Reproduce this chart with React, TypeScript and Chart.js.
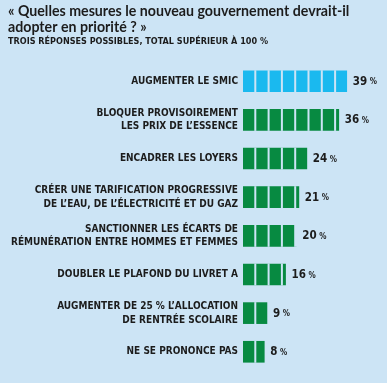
import React, { useEffect, useRef } from "react";
import { Chart, registerables } from "chart.js";

Chart.register(...registerables);

const titleLines = [
  "« Quelles mesures le nouveau gouvernement devrait-il",
  "adopter en priorité ? »",
];
const subtitleText = "TROIS RÉPONSES POSSIBLES, TOTAL SUPÉRIEUR À 100 %";

const categories: string[][] = [
  ["AUGMENTER LE SMIC"],
  ["BLOQUER PROVISOIREMENT", "LES PRIX DE L’ESSENCE"],
  ["ENCADRER LES LOYERS"],
  ["CRÉER UNE TARIFICATION PROGRESSIVE", "DE L’EAU, DE L’ÉLECTRICITÉ ET DU GAZ"],
  ["SANCTIONNER LES ÉCARTS DE", "RÉMUNÉRATION ENTRE HOMMES ET FEMMES"],
  ["DOUBLER LE PLAFOND DU LIVRET A"],
  ["AUGMENTER DE 25 % L’ALLOCATION", "DE RENTRÉE SCOLAIRE"],
  ["NE SE PRONONCE PAS"],
];
const values = [39, 36, 24, 21, 20, 16, 9, 8];
const highlightIndex = 0;
const segmentStep = 5;

const BG = "#cce4f5";
const BLUE = "#1ab9ef";
const GREEN = "#078a41";
const TEXT = "#1c1c1c";
const COND = "'DejaVu Sans Condensed', 'DejaVu Sans', sans-serif";

const bgPlugin = {
  id: "bgFill",
  beforeDraw(chart: any) {
    const { ctx, width, height } = chart;
    ctx.save();
    ctx.fillStyle = BG;
    ctx.fillRect(0, 0, width, height);
    ctx.restore();
  },
};

const barDecor = {
  id: "barDecor",
  afterDatasetsDraw(chart: any) {
    const { ctx } = chart;
    const xScale = chart.scales.x;
    const meta = chart.getDatasetMeta(0);
    ctx.save();
    meta.data.forEach((el: any, i: number) => {
      const { x, y, height } = el.getProps(["x", "y", "height"], true);
      const v = values[i];
      ctx.fillStyle = BG;
      for (let s = segmentStep; s <= v; s += segmentStep) {
        const px = xScale.getPixelForValue(s);
        const w = s === v ? 3.5 : 2;
        ctx.fillRect(px - 2, y - height / 2 - 0.5, w, height + 1);
      }
      ctx.fillStyle = TEXT;
      ctx.textBaseline = "middle";
      ctx.textAlign = "left";
      ctx.font = `bold 11.5px ${COND}`;
      const numText = String(v);
      const tx = x + 6;
      ctx.fillText(numText, tx, y + 0.5);
      const w = ctx.measureText(numText + " ").width;
      ctx.font = `bold 8px ${COND}`;
      ctx.fillText("%", tx + w - 1, y + 1);
    });
    ctx.restore();
  },
};

export default function App() {
  const ref = useRef<HTMLCanvasElement | null>(null);
  useEffect(() => {
    if (!ref.current) return;
    const chart = new Chart(ref.current, {
      type: "bar",
      data: {
        labels: categories,
        datasets: [
          {
            data: values,
            backgroundColor: values.map((_, i) => (i === highlightIndex ? BLUE : GREEN)),
            borderWidth: 0,
            barThickness: 21,
          },
        ],
      },
      options: {
        indexAxis: "y",
        responsive: false,
        animation: false,
        devicePixelRatio: 1,
        layout: { padding: { left: 8, right: 11, top: 0, bottom: 8 } },
        plugins: {
          legend: { display: false },
          tooltip: { enabled: false },
          title: {
            display: true,
            text: titleLines,
            align: "start",
            color: TEXT,
            font: { family: "Lato, 'Open Sans', sans-serif", size: 14.2, weight: "bold", lineHeight: 1.13 },
            padding: { top: 3, bottom: 1 },
          },
          subtitle: {
            display: true,
            text: subtitleText,
            align: "start",
            color: TEXT,
            font: { family: COND, size: 9, weight: "bold", lineHeight: 1.2 },
            padding: { top: 0, bottom: 15 },
          },
        },
        scales: {
          x: {
            display: false,
            min: 0,
            max: 50,
          },
          y: {
            afterFit: (scale: any) => {
              scale.width = 235;
            },
            grid: { display: false, drawTicks: false },
            border: { display: false },
            ticks: {
              color: TEXT,
              padding: 5,
              autoSkip: false,
              font: { family: COND, size: 10, weight: "bold", lineHeight: 1.38 },
            },
          },
        },
      },
      plugins: [bgPlugin, barDecor],
    });
    return () => chart.destroy();
  }, []);
  return (
    <div style={{ position: "absolute", left: 0, top: 0, width: 387, height: 383 }}>
      <canvas ref={ref} width={387} height={383} style={{ display: "block" }} />
    </div>
  );
}
